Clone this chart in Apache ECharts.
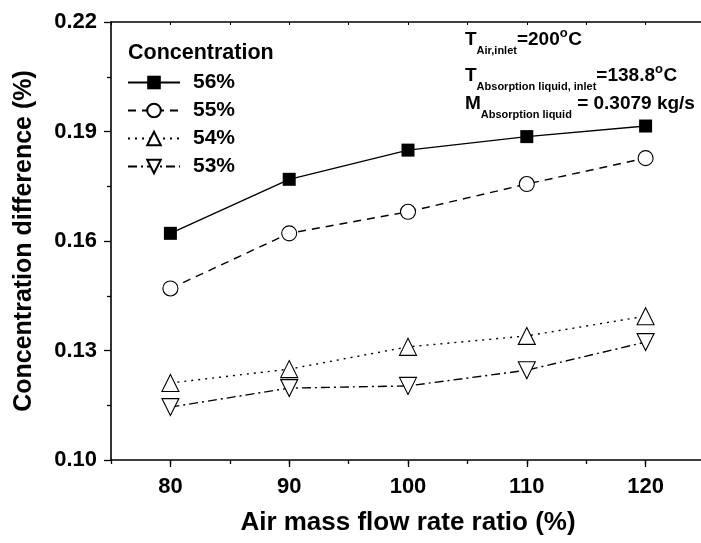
<!DOCTYPE html>
<html>
<head>
<meta charset="utf-8">
<script src="https://cdn.jsdelivr.net/npm/echarts@6/dist/echarts.min.js"></script>
<style>
html,body{margin:0;padding:0;background:#fff;}
#chart{width:701px;height:543px;}
</style>
</head>
<body>
<div id="chart"></div>
<script>
// ---- data ----
const xValues = [80, 90, 100, 110, 120];
const c56 = [0.1621, 0.1769, 0.1849, 0.1886, 0.1915];
const c55 = [0.1470, 0.1621, 0.1680, 0.1756, 0.1827];
const c54 = [0.1211, 0.1249, 0.1310, 0.1340, 0.1394];
const c53 = [0.1145, 0.1197, 0.1203, 0.1246, 0.1323];
const seriesNames = ['56%', '55%', '54%', '53%'];
const yTickValues = [0.10, 0.13, 0.16, 0.19, 0.22];
const yMinorValues = [0.115, 0.145, 0.175, 0.205];
const xTickValues = [80, 90, 100, 110, 120];

const FONT = 'Liberation Sans, Arial, sans-serif';
const pairs = arr => xValues.map((x, i) => [x, arr[i]]);

const chart = echarts.init(document.getElementById('chart'), null, {renderer: 'canvas'});

function mkSeries(name, arr, symbol, size, filled, dash, rotate) {
  return {
    name: name,
    type: 'line',
    xAxisIndex: 0,
    yAxisIndex: 0,
    data: pairs(arr),
    symbol: symbol,
    symbolSize: size,
    symbolRotate: rotate || 0,
    showAllSymbol: true,
    animation: false,
    emphasis: {disabled: true},
    lineStyle: {color: '#000', width: 1.4, type: dash},
    itemStyle: {
      color: filled ? '#000' : '#fff',
      borderColor: '#000',
      borderWidth: filled ? 0 : 1.1,
      opacity: 1
    },
    z: 3
  };
}

// ---- annotation text with sub/superscripts (laid out by measuring text) ----
const measureCtx = document.createElement('canvas').getContext('2d');
function textWidth(t, font) { measureCtx.font = font; return measureCtx.measureText(t).width; }
const MAIN = 'bold 19px ' + FONT, SUB = 'bold 11px ' + FONT, SUP = 'bold 13px ' + FONT;
const DY = {m: 0, s: 11, p: -6.5};
const FONTS = {m: MAIN, s: SUB, p: SUP};
const annotationRows = [
  {x: 465, y: 40, parts: [['m', 'T'], ['s', 'Air,inlet'], ['m', '=200'], ['p', 'o'], ['m', 'C']]},
  {x: 465, y: 76, parts: [['m', 'T'], ['s', 'Absorption liquid, inlet'], ['m', '=138.8'], ['p', 'o'], ['m', 'C']]},
  {x: 465, y: 104, parts: [['m', 'M'], ['s', 'Absorption liquid'], ['m', ' = 0.3079 kg/s']]}
];
const annotationGraphics = [];
annotationRows.forEach(row => {
  let cx = row.x;
  row.parts.forEach(([k, t]) => {
    annotationGraphics.push({
      type: 'text', x: cx, y: row.y + DY[k], silent: true, z: 10,
      style: {text: t, fill: '#000', font: FONTS[k], verticalAlign: 'middle', align: 'left'}
    });
    cx += textWidth(t, FONTS[k]) + (k === 'p' ? 0.5 : 0);
  });
});

const option = {
  backgroundColor: '#fff',
  animation: false,
  grid: {left: 111, top: 22, width: 594, bottom: 83, containLabel: false, outerBoundsMode: 'none'},
  xAxis: [
    {
      type: 'value', gridIndex: 0, position: 'bottom',
      min: 75, max: 125, interval: 5,
      axisLine: {show: true, onZero: false, lineStyle: {color: '#000', width: 1.6}},
      axisTick: {show: true, inside: false, length: 4, lineStyle: {color: '#000', width: 1.3}},
      axisLabel: {
        show: true, margin: 16, color: '#000', fontSize: 22, fontWeight: 'bold', fontFamily: FONT,
        formatter: v => (Math.round(v) % 10 === 0 && v > 75 && v < 125) ? String(Math.round(v)) : ''
      },
      splitLine: {show: false},
      name: 'Air mass flow rate ratio (%)',
      nameLocation: 'middle', nameGap: 50,
      nameTextStyle: {color: '#000', fontSize: 26, fontWeight: 'bold', fontFamily: FONT}
    },
    {
      type: 'value', gridIndex: 0, position: 'bottom',
      min: 75, max: 125, interval: 5,
      axisLine: {show: false, onZero: false},
      axisTick: {show: true, inside: false, length: 7, customValues: xTickValues, lineStyle: {color: '#000', width: 1.3}},
      axisLabel: {show: false},
      splitLine: {show: false}
    },
    {
      type: 'value', gridIndex: 0, position: 'top',
      min: 75, max: 125, interval: 5,
      axisLine: {show: true, onZero: false, lineStyle: {color: '#000', width: 1.6}},
      axisTick: {show: true, inside: true, length: 3, lineStyle: {color: '#000', width: 1}},
      axisLabel: {show: false},
      splitLine: {show: false}
    }
  ],
  yAxis: [
    {
      type: 'value', gridIndex: 0, position: 'left',
      min: 0.10, max: 0.22, interval: 0.03,
      axisLine: {show: true, onZero: false, lineStyle: {color: '#000', width: 1.6}},
      axisTick: {show: true, inside: false, length: 7, customValues: yTickValues, lineStyle: {color: '#000', width: 1.3}},
      axisLabel: {
        show: true, margin: 14, color: '#000', fontSize: 22, fontWeight: 'bold', fontFamily: FONT,
        customValues: yTickValues,
        formatter: v => Number(v).toFixed(2)
      },
      splitLine: {show: false},
      name: 'Concentration difference (%)',
      nameLocation: 'middle', nameGap: 74, nameRotate: 90,
      nameTextStyle: {color: '#000', fontSize: 25, fontWeight: 'bold', fontFamily: FONT}
    },
    {
      type: 'value', gridIndex: 0, position: 'left',
      min: 0.10, max: 0.22, interval: 0.03,
      axisLine: {show: false, onZero: false},
      axisTick: {show: true, inside: false, length: 4, customValues: yMinorValues, lineStyle: {color: '#000', width: 1.3}},
      axisLabel: {show: false},
      splitLine: {show: false}
    }
  ],
  legend: {
    show: true,
    orient: 'vertical',
    left: 127, top: 72,
    padding: 0,
    itemWidth: 52, itemHeight: 17, itemGap: 7,
    data: seriesNames,
    selectedMode: false,
    textStyle: {color: '#000', fontSize: 21, fontWeight: 'bold', fontFamily: FONT, padding: [0, 0, 0, 8]}
  },
  graphic: [
    {type: 'text', x: 128, y: 53, silent: true,
     style: {text: 'Concentration', fill: '#000', font: 'bold 21.5px ' + FONT, verticalAlign: 'middle', align: 'left'}}
  ].concat(annotationGraphics),
  series: [
    mkSeries(seriesNames[0], c56, 'rect', 13, true, 'solid'),
    mkSeries(seriesNames[1], c55, 'circle', 15, false, [8, 6]),
    mkSeries(seriesNames[2], c54, 'triangle', 17, false, [2, 5]),
    mkSeries(seriesNames[3], c53, 'triangle', 17, false, [9, 4, 2, 4], 180)
  ]
};

chart.setOption(option);
</script>
</body>
</html>
